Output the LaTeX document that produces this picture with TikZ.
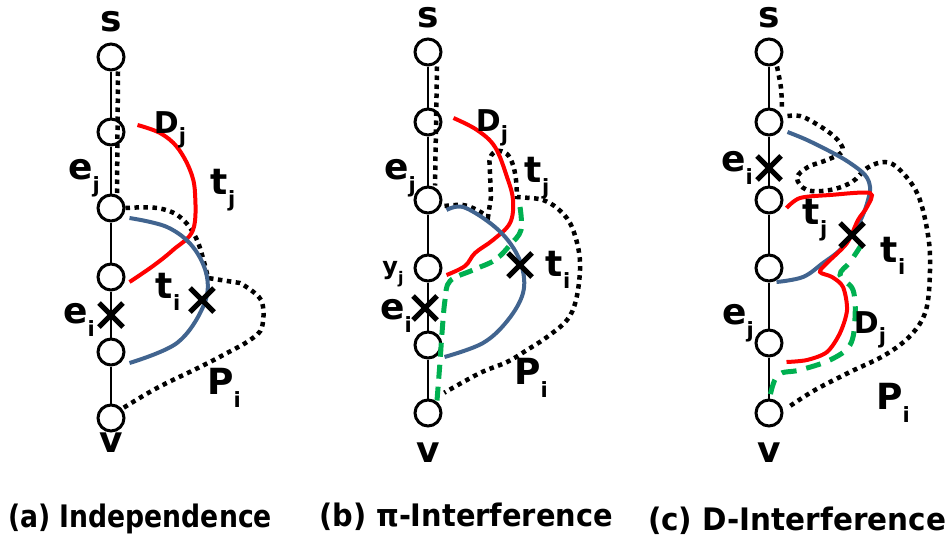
\documentclass[tikz,border=0pt]{standalone}
\usepackage{fontspec}
\usepackage{graphicx}
\setmainfont{DejaVu Sans}
\usetikzlibrary{shapes.misc}
\definecolor{pathred}{HTML}{FF0000}
\definecolor{pathblue}{HTML}{41648F}
\definecolor{pathgreen}{HTML}{00B050}
\newcommand{\ix}[2]{#1\raisebox{-0.35em}{\fontsize{21}{21}\selectfont #2}}
\newcommand{\captext}[2]{\scalebox{#1}[1]{#2}}
\tikzset{
  vtx/.style={circle,draw,line width=3pt,minimum size=26pt,inner sep=0pt},
  spine/.style={line width=2.2pt},
  dotp/.style={line width=4.5pt,dash pattern=on 4.5pt off 4.5pt},
  redp/.style={pathred,line width=4pt},
  bluep/.style={pathblue,line width=4pt},
  greenp/.style={pathgreen,line width=5pt,dash pattern=on 14pt off 8pt},
  cut/.style={cross out,draw,line width=5pt,minimum size=19pt,inner sep=0pt},
  lab/.style={font=\fontsize{36}{36}\selectfont\bfseries,inner sep=0pt},
  smlab/.style={font=\fontsize{30}{30}\selectfont\bfseries,inner sep=0pt},
  captxt/.style={font=\fontsize{31}{31}\selectfont\bfseries,inner sep=0pt},
}
\begin{document}
\begin{tikzpicture}[x=1pt,y=-1pt]
\useasboundingbox (0,0) rectangle (949,538);
% (a) independence
\foreach \n/\y in {0/57,1/132,2/208,3/277,4/352,5/418}
  \node[vtx] (a\n) at (111,\y) {};
\draw[spine] (a0) -- (a1) -- (a2) -- (a3) -- (a4) -- (a5);
\draw[dotp] ([xshift=7pt]a0.south) -- ([xshift=6pt]a2.north);
\draw[dotp] plot[smooth,tension=0.6] coordinates {(a2.east) (157,208) (180,217) (197,240) (208,278)}
  -- plot[smooth,tension=0.6] coordinates {(240,283) (261,300) (262,327) (250,340) (227,353) (200,367) (157,388) (a5.40)};
\draw[redp] plot[smooth,tension=0.6] coordinates {([shift={(12,-7)}]a1.east) (160,133) (177,147) (190,170) (195,193) (193,230) (173,250) (153,266) ([shift={(4,5)}]a3.east)};
\draw[bluep] plot[smooth,tension=0.6] coordinates {([shift={(4,10)}]a2.east) (167,227) (193,247) (207,277) (203,307) (177,343) ([shift={(4,11)}]a4.east)};
\node[cut] (xa1) at (111,315) {};
\node[cut] (xa2) at (202,300) {};
\node[lab] (sa) at (111,22) {s};
\node[lab] (eja) at (84,178) {\ix{e}{j}};
\node[smlab] (dja) at (170,130) {\ix{D}{j}};
\node[lab] (tja) at (223,190) {\ix{t}{j}};
\node[lab] (tia) at (168,292) {\ix{t}{i}};
\node[lab] (eia) at (79,320) {\ix{e}{i}};
\node[lab] (pia) at (224,388) {\ix{P}{i}};
\node[lab] (va) at (111,443) {v};
\node[captxt] (capa) at (140,519) {\captext{0.86}{(a) Independence}};
% (b) pi-interference
\foreach \n/\y in {0/52,1/122,2/200,3/268,4/345,5/413}
  \node[vtx] (b\n) at (428,\y) {};
\draw[spine] (b0) -- (b1) -- (b2) -- (b3) -- (b4) -- (b5);
\draw[dotp] ([xshift=9pt]b0.south) -- ([xshift=7pt]b2.north);
\draw[dotp] plot[smooth,tension=0.6] coordinates {([shift={(2,6)}]b2.east) (463,205) (477,210) (488,217)}
  -- plot[smooth,tension=0.6] coordinates {(491,197) (490,173) (490,158) (497,151) (507,154) (513,165) (516,180) (517,197)}
  -- plot[smooth,tension=0.6] coordinates {(530,198) (543,200) (557,208) (570,223) (578,247) (580,270) (576,300) (567,320) (547,337) (527,350) (507,362) (480,373) ([shift={(6,-10)}]b5.north east)};
\draw[redp] plot[smooth,tension=0.6] coordinates {([shift={(11,-4)}]b1.east) (477,130) (495,147) (507,177) (513,200) (510,223) (493,240) (475,253) (465,266) ([shift={(4,7)}]b3.east)};
\draw[bluep] plot[smooth,tension=0.6] coordinates {([shift={(4,10)}]b2.east) (463,207) (490,223) (510,243) (522,267) (523,293) (508,320) (483,343) ([shift={(2,12)}]b4.east)};
\coordinate (gb) at (520,207);
\draw[greenp] plot[smooth,tension=0.6] coordinates {(gb) (521,230) (510,245) (495,260) (473,270) (450,281) (445,300) (442,333) (440,362) ([shift={(9,2)}]b5.north)};
\node[cut] (xb1) at (425,308) {};
\node[cut] (xb2) at (520,265) {};
\node[lab] (sb) at (428,18) {s};
\node[smlab] (djb) at (492,128) {\ix{D}{j}};
\node[lab] (tjb) at (537,178) {\ix{t}{j}};
\node[lab] (ejb) at (400,178) {\ix{e}{j}};
\node[inner sep=0pt,font=\fontsize{24}{24}\selectfont\bfseries] (yjb) at (393,274) {y\raisebox{-0.35em}{\fontsize{16}{16}\selectfont j}};
\node[lab] (eib) at (396,316) {\ix{e}{i}};
\node[lab] (tib) at (558,270) {\ix{t}{i}};
\node[lab] (pib) at (531,378) {\ix{P}{i}};
\node[lab] (vb) at (428,453) {v};
\node[captxt] (capb) at (466,517) {\captext{0.93}{(b) π-Interference}};
% (c) D-interference
\foreach \n/\y in {0/52,1/122,2/200,3/268,4/343,5/413}
  \node[vtx] (c\n) at (769,\y) {};
\draw[spine] (c0) -- (c1) -- (c2) -- (c3) -- (c4) -- (c5);
\draw[dotp] plot[smooth] coordinates {([xshift=8pt]c0.south) (781,88) ([shift={(13,2)}]c1.north)};
\draw[dotp] plot[smooth,tension=0.6] coordinates {([shift={(4,-6)}]c1.east) (800,116) (813,122) (830,133) (840,143) (842,152) (827,160) (808,167) (797,178) (807,190) (830,190) (852,182) (867,168) (885,162) (900,170) (918,195) (928,235) (930,270) (926,310) (911,335) (885,355) (850,372) (815,390) ([shift={(5,-6)}]c5.east)};
\draw[bluep] plot[smooth,tension=0.6] coordinates {([shift={(4,10)}]c1.east) (807,140) (833,153) (850,163) (865,175) (870,187) (868,200) (862,217) (853,233) (840,250) (823,263) (803,277) ([shift={(-7,14)}]c3.east)};
\draw[redp] plot[smooth,tension=0.5] coordinates {([shift={(3,8)}]c2.east) (800,198) (830,195) (870,193) (867,207) (858,220) (847,243) (827,263) (820,272) (832,277) (843,287) (847,310) (840,333) (827,352) (807,360) ([shift={(3,19)}]c4.east)};
\coordinate (gc) at (862,244);
\draw[greenp,dash pattern=on 15pt off 10pt] plot[smooth,tension=0.6] coordinates {(gc) (850,262) (840,275) (853,290) (855,318) (850,345) (830,360) (800,370) (778,375) ([shift={(1,-2)}]c5.north)};
\node[cut] (xc1) at (769,168) {};
\node[cut] (xc2) at (852,235) {};
\node[lab] (sc) at (769,18) {s};
\node[lab] (eic) at (737,168) {\ix{e}{i}};
\node[lab] (tjc) at (815,220) {\ix{t}{j}};
\node[lab] (tic) at (893,256) {\ix{t}{i}};
\node[lab] (ejc) at (738,323) {\ix{e}{j}};
\node[smlab] (djc) at (870,330) {\ix{D}{j}};
\node[lab] (pic) at (893,403) {\ix{P}{i}};
\node[lab] (vc) at (769,453) {v};
\node[captxt] (capc) at (797,521) {\captext{0.95}{(c) D-Interference}};
\end{tikzpicture}
\end{document}
